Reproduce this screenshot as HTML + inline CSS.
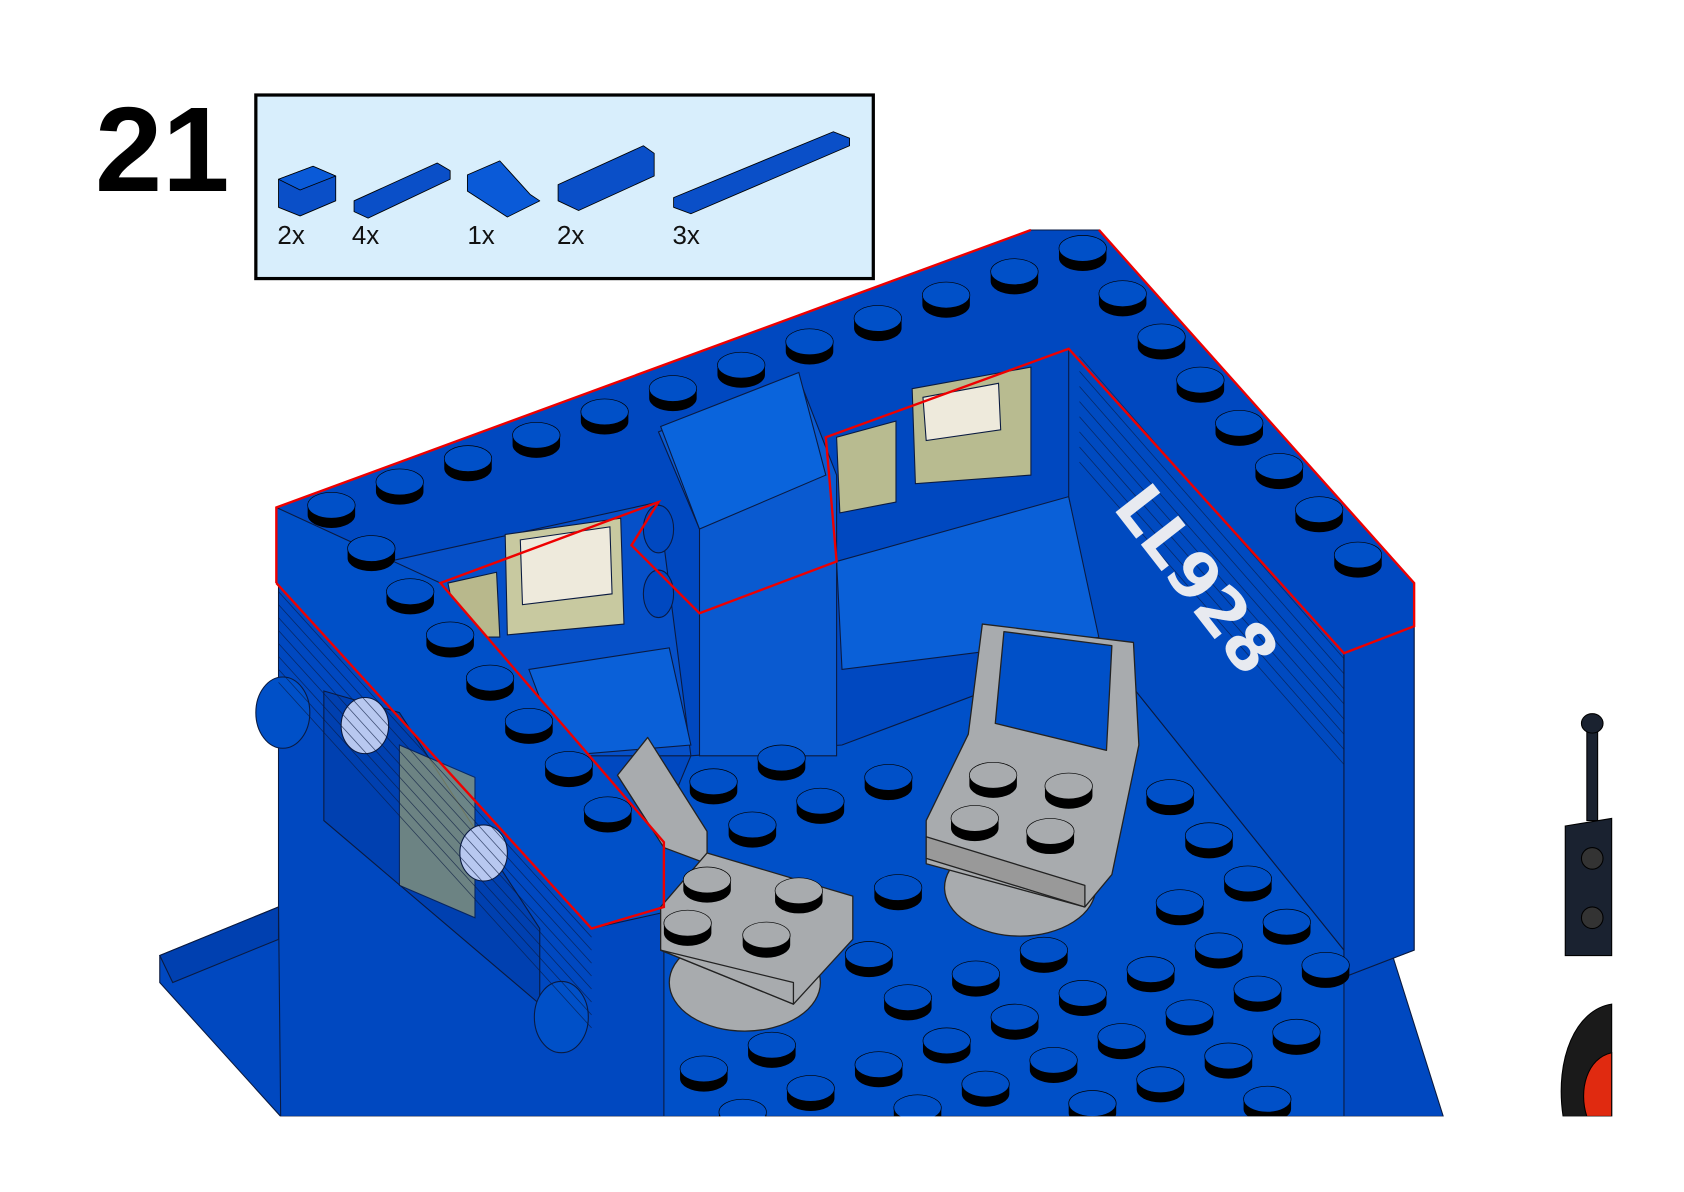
<!DOCTYPE html>
<html><head><meta charset="utf-8"><style>
html,body{margin:0;padding:0;background:#fff;width:1684px;height:1192px;overflow:hidden}
svg{display:block}
</style></head><body>
<svg id="s" width="1684" height="1192" viewBox="0 0 1560 1104" preserveAspectRatio="none" xmlns="http://www.w3.org/2000/svg">
<rect width="1560" height="1104" fill="#fff"/>
<text x="88" y="177" font-family="Liberation Sans, sans-serif" font-weight="bold" font-size="112" fill="#000">21</text>
<rect x="237" y="88" width="572" height="170" fill="#d8eefc" stroke="#000" stroke-width="3"/>
<g stroke="#000" stroke-width="0.8" stroke-linejoin="round">
 <polygon points="258,166 290,154 311,163 311,186 278,200 258,192" fill="#0a4fc8"/>
 <polygon points="258,166 290,154 311,163 278,176" fill="#0a5ad8"/>
 <polygon points="328,186 405,151 417,158 417,166 341,202 328,196" fill="#0a4fc8"/>
 <polygon points="433,162 463,149 491,180 500,186 470,201 433,177" fill="#0a5ad8"/>
 <polygon points="517,171 596,135 606,142 606,163 536,195 517,186" fill="#0a4fc8"/>
 <polygon points="624,183 772,122 787,128 787,135 640,198 624,192" fill="#0a4fc8"/>
</g>
<g font-family="Liberation Sans, sans-serif" font-size="24" fill="#111">
<text x="257" y="226">2x</text><text x="326" y="226">4x</text><text x="433" y="226">1x</text><text x="516" y="226">2x</text><text x="623" y="226">3x</text>
</g>
<g stroke="#0a1a40" stroke-width="1">
<polygon points="148,885 258,840 420,1000 420,1034 260,1034 148,910" fill="#0048c0"/>
<polygon points="1245,880 1290,885 1337,1034 1180,1034" fill="#0048c0"/>
<polygon points="256,470 955,213 1018,213 1310,540 1310,880 1245,905 1245,1034 260,1034 258,840 258,540" fill="#0048c0"/>
<polygon points="615,1034 615,760 640,700 780,690 1020,600 1245,880 1245,1034" fill="#0050c8"/>
<polygon points="360,520 610,465 640,700 500,700 455,610" fill="#0650c8"/>
<polygon points="490,620 620,600 640,690 520,700" fill="#0a60d8"/>
<polygon points="775,520 990,460 1020,590 780,620" fill="#0a60d8"/>
<polygon points="990,323 1245,605 1245,880 1020,600 990,460" fill="#004ac0"/>
<polygon points="610,400 740,350 775,440 775,700 648,700 648,490" fill="#0a5ad0"/>
<polygon points="612,395 740,345 765,440 648,490" fill="#0a64dc"/>
<polygon points="468,495 575,480 578,578 470,588" fill="#c8c9a0"/>
<polygon points="482,500 565,488 567,550 484,560" fill="#eeeadc"/>
<polygon points="415,540 460,530 463,590 425,590" fill="#b8b88c"/>
<polygon points="845,360 955,340 955,440 848,448" fill="#b8bb90"/>
<polygon points="855,368 925,355 927,398 858,408" fill="#eeeadc"/>
<polygon points="775,405 830,390 830,465 778,475" fill="#b8bb90"/>
<polygon points="256,470 408,540 615,780 615,845 548,860 256,540" fill="#0050c8"/>
<polygon points="1245,605 1310,580 1310,880 1245,905" fill="#0048c0"/>
<polygon points="300,640 370,660 500,860 500,930 300,760" fill="#0040b0"/>
<polygon points="370,690 440,720 440,850 370,820" fill="#9aa070" opacity="0.7"/>
<polygon points="148,885 258,840 258,870 160,910" fill="#0040b0"/>
</g>
<g stroke="#0a1a40" stroke-width="1">
<ellipse cx="262" cy="660" rx="25" ry="33" fill="#0050c8"/>
<ellipse cx="520" cy="942" rx="25" ry="33" fill="#0050c8"/>
<ellipse cx="338" cy="672" rx="22" ry="26" fill="#b8c8f0"/>
<ellipse cx="448" cy="790" rx="22" ry="26" fill="#b8c8f0"/>
<ellipse cx="610" cy="490" rx="14" ry="22" fill="#0048c0"/>
<ellipse cx="610" cy="550" rx="14" ry="22" fill="#0048c0"/>
</g>
<g stroke="#0a1a40" stroke-width="0.7" opacity="0.7" id="lines"></g>
<g id="studs"></g>
<g stroke="#222" stroke-width="1.2" fill="#a8abae" stroke-linejoin="round">
<polygon points="572,718 600,683 655,770 655,800 615,785"/>
<ellipse cx="690" cy="910" rx="70" ry="45"/>
<polygon points="655,790 790,830 790,870 735,930 612,880 612,840"/>
<polygon points="612,880 735,930 735,910"/>
<ellipse cx="945" cy="822" rx="70" ry="45"/>
<polygon points="910,578 1050,595 1055,690 1030,810 1005,840 858,800 858,760 897,680"/>
<polygon points="930,585 1030,598 1025,695 922,670" fill="#0050c8"/>
<polygon points="858,795 1005,840 1005,820 858,775" fill="#999"/>
</g>
<g id="studs2"></g>
<text x="0" y="0" transform="translate(1030,470) rotate(52)" font-family="DejaVu Sans, sans-serif" font-weight="bold" font-size="60" fill="#e8eaf0">LL928</text>
<g fill="none" stroke="#e00" stroke-width="2.2" stroke-linejoin="miter">
<polyline points="256,540 256,470 955,213"/>
<polyline points="256,540 548,860 615,840 615,780 408,540 610,465 585,505 648,568 775,520 765,405 990,323 1245,605 1310,580 1310,540 1018,213"/>
</g>
<g stroke="#000" stroke-width="1">
<rect x="1470" y="670" width="10" height="90" fill="#1a2230"/>
<ellipse cx="1475" cy="670" rx="10" ry="9" fill="#1a2230"/>
<polygon points="1450,765 1493,758 1493,885 1450,885" fill="#1a2230"/>
<ellipse cx="1475" cy="795" rx="10" ry="10" fill="#333"/>
<ellipse cx="1475" cy="850" rx="10" ry="10" fill="#333"/>
<path d="M1493,930 C1460,935 1440,980 1448,1034 L1493,1034 Z" fill="#1a1a1a"/>
<path d="M1493,975 C1470,980 1462,1010 1470,1034 L1493,1034 Z" fill="#e02a10"/>
</g>
<rect x="0" y="1034" width="1560" height="70" fill="#fff"/>
</svg>
<script>
var NS="http://www.w3.org/2000/svg";
function stud(g,x,y,fill){
 var a=document.createElementNS(NS,"path");
 a.setAttribute("d","M"+(x-22)+","+y+" v9 a22,12 0 0 0 44,0 v-9 z");
 a.setAttribute("fill","#000");g.appendChild(a);
 var e=document.createElementNS(NS,"ellipse");
 e.setAttribute("cx",x);e.setAttribute("cy",y);e.setAttribute("rx",22);e.setAttribute("ry",12);
 e.setAttribute("fill",fill);e.setAttribute("stroke","#000");e.setAttribute("stroke-width","0.6");g.appendChild(e);
}
var g=document.getElementById("studs");
for(var i=0;i<12;i++){var t=i/11;stud(g,307+t*(1003-307),468+t*(230-468),"#0050c8");}
var R=[[1040,272],[1076,312],[1112,352],[1148,392],[1185,432],[1222,472],[1258,514]];
R.forEach(function(p){stud(g,p[0],p[1],"#0050c8")});
var L=[[344,508],[380,548],[417,588],[454,628],[490,668],[527,708],[563,750]];
L.forEach(function(p){stud(g,p[0],p[1],"#0050c8")});
function inside(x,y){
 var poly=[[640,720],[780,700],[1020,612],[1230,880],[1230,1040],[640,1040]];
 var c=false;for(var i=0,j=poly.length-1;i<poly.length;j=i++){
  var xi=poly[i][0],yi=poly[i][1],xj=poly[j][0],yj=poly[j][1];
  if(((yi>y)!=(yj>y))&&(x<(xj-xi)*(y-yi)/(yj-yi)+xi))c=!c;}return c;}
function inSeat(x,y){
 if(x>600&&x<800&&y>780&&y<965)return true;
 if(x>850&&x<1060&&y>570&&y<870)return true;
 return false;}
for(var i=-6;i<10;i++)for(var j=-6;j<10;j++){
 var x=697+i*63+j*36,y=770-i*22+j*40;
 if(inside(x,y)&&!inSeat(x,y))stud(g,x,y-6,"#0050c8");}
var g2=document.getElementById("studs2");
[[655,815],[740,825],[637,855],[710,866]].forEach(function(p){stud(g2,p[0],p[1],"#a8abae")});
[[920,718],[990,728],[903,758],[973,770]].forEach(function(p){stud(g2,p[0],p[1],"#a8abae")});
var ln=document.getElementById("lines");
for(var k=0;k<8;k++){var l=document.createElementNS(NS,"line");
 l.setAttribute("x1",258);l.setAttribute("y1",548+k*12);l.setAttribute("x2",548);l.setAttribute("y2",868+k*12);
 l.setAttribute("stroke","#0a1a40");ln.appendChild(l);
 var m=document.createElementNS(NS,"line");
 m.setAttribute("x1",1000);m.setAttribute("y1",330+k*14);m.setAttribute("x2",1245);m.setAttribute("y2",610+k*14);
 m.setAttribute("stroke","#0a1a40");ln.appendChild(m);}
</script>
</body></html>
